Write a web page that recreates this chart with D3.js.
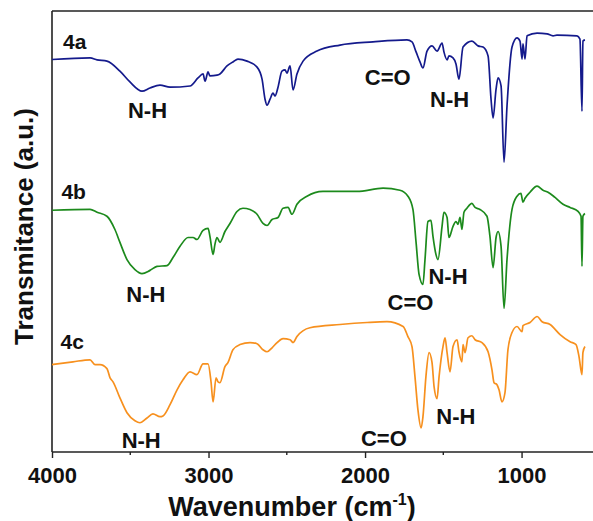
<!DOCTYPE html>
<html>
<head>
<meta charset="utf-8">
<script src="https://cdn.jsdelivr.net/npm/d3@7"></script>
<style>
  html, body { margin: 0; padding: 0; background: #fff; }
  svg { display: block; }
  text { font-family: "Liberation Sans", Arial, sans-serif; font-weight: bold; fill: #111; }
</style>
</head>
<body>
<svg id="chart" width="593" height="521"></svg>
<script>
// FTIR spectra of 4a, 4b, 4c: wavenumber (cm-1) vs transmittance (a.u., stacked)
const wn4a = [4000,3757,3712,3649,3566,3502,3425,3374,3310,3246,3118,3067,3035,3022,3003,2991,2946,2927,2882,2844,2812,2754,2690,2658,2639,2626,2607,2588,2575,2556,2531,2511,2499,2479,2460,2435,2396,2307,2160,1949,1732,1700,1674,1649,1630,1604,1572,1540,1508,1496,1476,1464,1438,1419,1400,1374,1317,1278,1246,1214,1195,1182,1163,1150,1131,1112,1093,1061,1029,1010,997,991,978,965,901,837,799,774,646,627,614,608,595];
const t4a  = [97.9,98.3,97.8,97.5,95,92.3,90,90.8,91.5,91,91.3,93.3,94.3,92.5,94.8,93.8,94,94.3,96.3,97.3,98,97.5,96,93,88,86.5,88,89.5,88.8,91,95,95.3,94.5,96.3,90.3,94.3,97.5,100,101.5,102.3,102.8,102.3,99.8,97.3,95.8,100,101.3,100,102,99.8,97.8,98.8,98.3,96.8,93,101,102.5,101.3,101,98.8,88,83.3,90.5,93.3,91.3,72.3,86.3,101,103.3,102.5,98,101.8,98,103.8,104.5,104.3,103.8,104,103.8,103,85,102.5,102.8];

const wn4b = [4000,3757,3712,3649,3598,3566,3521,3470,3425,3374,3329,3265,3227,3182,3131,3099,3074,3035,3003,2991,2971,2959,2946,2927,2895,2863,2818,2780,2735,2690,2652,2626,2594,2556,2524,2492,2467,2435,2371,2269,2051,1885,1777,1726,1694,1674,1655,1630,1617,1598,1579,1566,1547,1534,1508,1496,1476,1464,1438,1419,1406,1393,1381,1368,1349,1317,1297,1266,1221,1202,1182,1163,1150,1131,1112,1093,1061,1029,1004,991,978,946,901,863,831,786,735,690,639,620,614,608,595];
const t4b  = [60.3,60.5,59.8,58.8,55.5,52.3,48,45.5,44.5,45.3,46.3,46.5,48.5,51.3,53.5,53.5,53,55.3,55.8,53.8,49.3,51.8,53.5,52.3,55,57,60,60.8,60.5,59.3,57,56.5,58,58.5,60.8,61,59.3,61.8,63.8,65,65,65.8,65.3,63.8,60.5,52.3,44.3,41.8,48,57.5,57.8,53.8,49.3,48,56.3,59.8,58.5,53.5,56.3,57.5,56.8,58.5,55.5,59.8,60.8,62,61,60.5,58.8,53.8,46,53.5,55,51.3,35.8,48,60.5,63.8,64.5,62.3,63.3,64.8,66.3,65.3,64.8,63.5,61.8,61,60,58.8,46.3,58.8,59.5];

const wn4c = [4000,3866,3757,3725,3693,3649,3629,3610,3566,3521,3470,3438,3393,3355,3310,3291,3246,3201,3163,3118,3074,3035,3003,2984,2971,2952,2939,2927,2895,2876,2844,2799,2735,2690,2652,2626,2594,2562,2524,2479,2460,2435,2352,2160,1987,1860,1757,1726,1700,1681,1662,1642,1630,1611,1591,1572,1559,1540,1527,1502,1489,1476,1457,1438,1412,1400,1381,1374,1361,1342,1317,1297,1253,1214,1189,1176,1157,1144,1125,1106,1087,1061,1029,997,991,946,901,869,818,754,690,652,633,614,608,595];
const t4c  = [21.8,22.5,23,21.8,21.8,20.8,18.5,17.5,13.5,9.8,7.8,7.3,8.5,9.5,8.8,9,11.8,15.5,18,20,19.3,22,22,17.5,12.5,18.5,17.5,17.3,21.3,22.3,25.5,26.8,27.3,27,25.5,25,26,27.3,28.3,28,27.3,28.8,31,31.8,32.3,32.5,31.3,28.8,26.3,18.8,10.5,6,8.8,18.8,24.8,22.3,16.3,13.3,18.8,26.3,28.5,24.8,20,26.3,28,25,22.5,26.8,24.8,28.5,29,28,27.3,25,20.5,17.3,16.8,15.5,12.5,14.8,25.5,29.8,31.3,30,31.5,32.3,33.8,32.5,31.8,29.3,27.5,26.8,23.8,19.3,24.8,26.3];

const seriesNames  = ["4a", "4b", "4c"];
const seriesColors = ["#141a8c", "#1c8a1c", "#f7901e"];
const xTicksMajor  = [4000, 3000, 2000, 1000];
const xTicksMinor  = [3500, 2500, 1500];

// band annotations: [series, label, wavenumber, transmittance]
const bandLabels = [
  ["4a", "N-H", 3390, 83.3],
  ["4a", "C=O", 1855, 91.6],
  ["4a", "N-H", 1460, 86.1],
  ["4b", "N-H", 3400, 37.3],
  ["4b", "N-H", 1470, 41.8],
  ["4b", "C=O", 1710, 35.3],
  ["4c", "N-H", 3430, 1.1],
  ["4c", "C=O", 1880, 1.6],
  ["4c", "N-H", 1420, 7.1]
];
const seriesLabelPos = [[3930, 100.5], [3940, 63], [3945, 25.8]];

const series = seriesNames.map((name, i) => ({
  name,
  color: seriesColors[i],
  points: d3.zip([wn4a, wn4b, wn4c][i], [t4a, t4b, t4c][i])
}));

const svg = d3.select("#chart");
const plotL = 52, plotR = 592, plotT = 11, plotB = 452;

const x = d3.scaleLinear().domain([4000, 550]).range([plotL, plotR]);
const y = d3.scaleLinear().domain([0, 110]).range([plotB, plotT]);

// frame: left and top lines
svg.append("line").attr("x1", plotL).attr("x2", plotL).attr("y1", plotT).attr("y2", plotB)
  .attr("stroke", "#222").attr("stroke-width", 1.6);
svg.append("line").attr("x1", plotL).attr("x2", plotR + 1).attr("y1", plotT).attr("y2", plotT)
  .attr("stroke", "#222").attr("stroke-width", 1.6);

// bottom axis
const gx = svg.append("g").attr("transform", `translate(0,${plotB})`)
  .call(d3.axisBottom(x).tickValues(xTicksMajor).tickSize(6).tickSizeOuter(0).tickPadding(9)
    .tickFormat(d3.format("d")));
gx.select(".domain").attr("stroke", "#222").attr("stroke-width", 1.6)
  .attr("d", `M${plotL},0H${plotR + 1}`);
gx.selectAll(".tick line").attr("stroke", "#222").attr("stroke-width", 1.4);
gx.selectAll(".tick text").attr("font-size", 22).attr("font-family", "Liberation Sans, Arial, sans-serif")
  .attr("font-weight", "bold").attr("fill", "#111");
gx.selectAll(".minor").data(xTicksMinor).enter().append("line")
  .attr("x1", d => x(d)).attr("x2", d => x(d)).attr("y1", 0).attr("y2", 3)
  .attr("stroke", "#222").attr("stroke-width", 1.4);

// spectra
const line = d3.line().x(d => x(d[0])).y(d => y(d[1])).curve(d3.curveMonotoneX);
svg.append("g").selectAll("path").data(series).enter().append("path")
  .attr("d", d => line(d.points))
  .attr("fill", "none")
  .attr("stroke", d => d.color)
  .attr("stroke-width", 1.7)
  .attr("stroke-linejoin", "round");

// series labels
svg.append("g").selectAll("text").data(series).enter().append("text")
  .attr("x", (d, i) => x(seriesLabelPos[i][0]))
  .attr("y", (d, i) => y(seriesLabelPos[i][1]))
  .attr("font-size", 21)
  .text(d => d.name);

// band annotations
svg.append("g").selectAll("text").data(bandLabels).enter().append("text")
  .attr("x", d => x(d[2]))
  .attr("y", d => y(d[3]))
  .attr("text-anchor", "middle")
  .attr("font-size", 22)
  .text(d => d[1]);

// axis titles
const xt = svg.append("text").attr("x", 292).attr("y", 516).attr("text-anchor", "middle")
  .attr("font-size", 27);
xt.append("tspan").text("Wavenumber (cm");
xt.append("tspan").attr("font-size", 16).attr("dy", -11).text("-1");
xt.append("tspan").attr("dy", 11).text(")");

svg.append("text")
  .attr("transform", `translate(33,${(plotT + plotB) / 2 - 5}) rotate(-90)`)
  .attr("text-anchor", "middle")
  .attr("font-size", 26)
  .text("Transmitance (a.u.)");
</script>
</body>
</html>
